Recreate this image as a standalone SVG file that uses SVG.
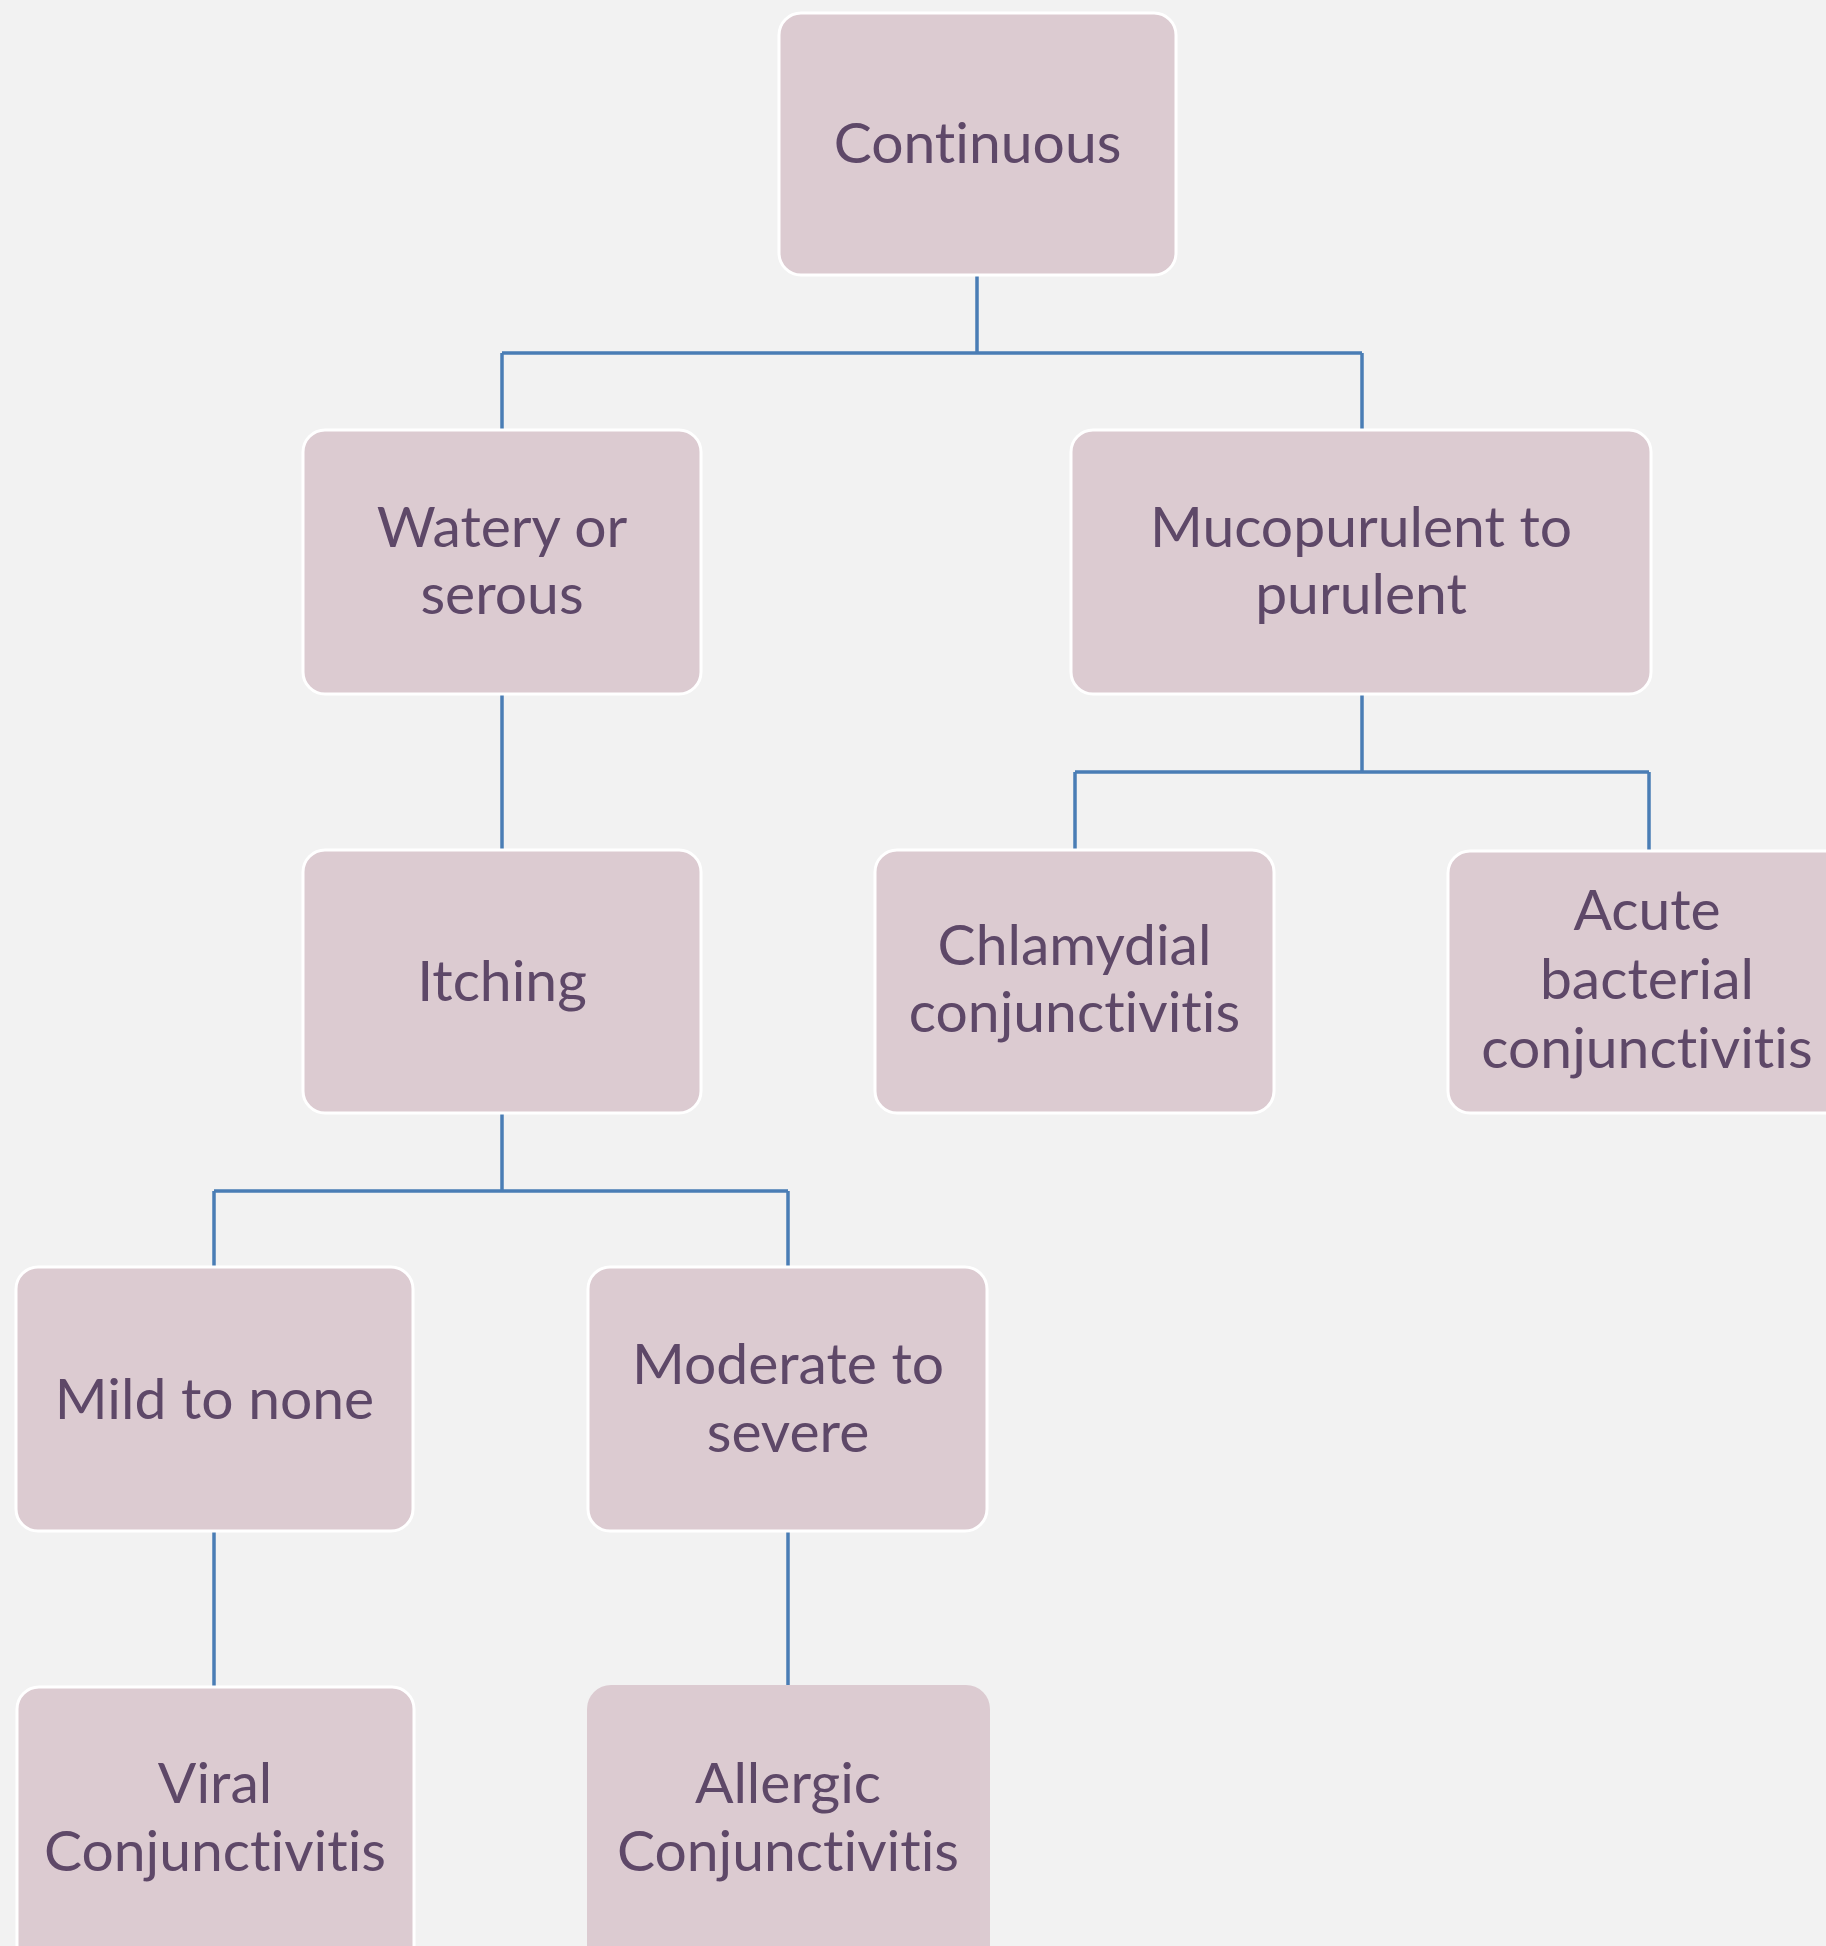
<svg xmlns="http://www.w3.org/2000/svg" width="1826" height="1946" viewBox="0 0 1826 1946">
<style>
.bg{fill:#f2f2f2}
.box{fill:#dccbd1;stroke:#ffffff;stroke-width:3}
.box2{fill:#dccbd1;stroke:none}
.lbl{font-family:Lato,"Open Sans","Liberation Sans",sans-serif;font-size:57px;fill:#5e4868;text-anchor:middle;font-variant-ligatures:none;font-feature-settings:"liga" 0,"clig" 0}
.conn{fill:none;stroke:#4a7db5;stroke-width:3.5}
</style>
<rect class="bg" x="0" y="0" width="1826" height="1946"/>
<g id="connectors">
<path class="conn" d="M977,275 V353 M502,353 H1362 M502,353 V430 M1362,353 V430"/>
<path class="conn" d="M502,694 V850"/>
<path class="conn" d="M1362,694 V772 M1075,772 H1649 M1075,772 V850 M1649,772 V850"/>
<path class="conn" d="M502,1113 V1191 M214,1191 H788 M214,1191 V1267 M788,1191 V1267"/>
<path class="conn" d="M214,1531 V1687"/>
<path class="conn" d="M788,1531 V1685"/>
</g>
<g id="n-continuous">
<rect class="box" x="779" y="13" width="397" height="262" rx="22"/>
<text class="lbl" x="977.5" y="163">Continuous</text>
</g>
<g id="n-watery">
<rect class="box" x="303" y="430" width="398" height="264" rx="22"/>
<text class="lbl" x="502" y="547">Watery or</text>
<text class="lbl" x="502" y="614">serous</text>
</g>
<g id="n-mucopurulent">
<rect class="box" x="1071" y="430" width="580" height="264" rx="22"/>
<text class="lbl" x="1361" y="547">Mucopurulent to</text>
<text class="lbl" x="1361" y="614">purulent</text>
</g>
<g id="n-itching">
<rect class="box" x="303" y="850" width="398" height="263" rx="22"/>
<text class="lbl" x="502" y="1001">Itching</text>
</g>
<g id="n-chlamydial">
<rect class="box" x="875" y="850" width="399" height="263" rx="22"/>
<text class="lbl" x="1074.5" y="965">Chlamydial</text>
<text class="lbl" x="1074.5" y="1032">conjunctivitis</text>
</g>
<g id="n-acute">
<rect class="box" x="1448" y="851" width="402" height="262" rx="22"/>
<text class="lbl" x="1647" y="930">Acute</text>
<text class="lbl" x="1647" y="999">bacterial</text>
<text class="lbl" x="1647" y="1068">conjunctivitis</text>
</g>
<g id="n-mild">
<rect class="box" x="16" y="1267" width="397" height="264" rx="22"/>
<text class="lbl" x="214.5" y="1419">Mild to none</text>
</g>
<g id="n-moderate">
<rect class="box" x="588" y="1267" width="399" height="264" rx="22"/>
<text class="lbl" x="788" y="1384">Moderate to</text>
<text class="lbl" x="788" y="1452">severe</text>
</g>
<g id="n-viral">
<rect class="box" x="17" y="1687" width="397" height="300" rx="22"/>
<text class="lbl" x="215" y="1803">Viral</text>
<text class="lbl" x="215" y="1871">Conjunctivitis</text>
</g>
<g id="n-allergic">
<rect class="box2" x="587" y="1685" width="403" height="300" rx="24"/>
<text class="lbl" x="788" y="1803">Allergic</text>
<text class="lbl" x="788" y="1871">Conjunctivitis</text>
</g>
</svg>
